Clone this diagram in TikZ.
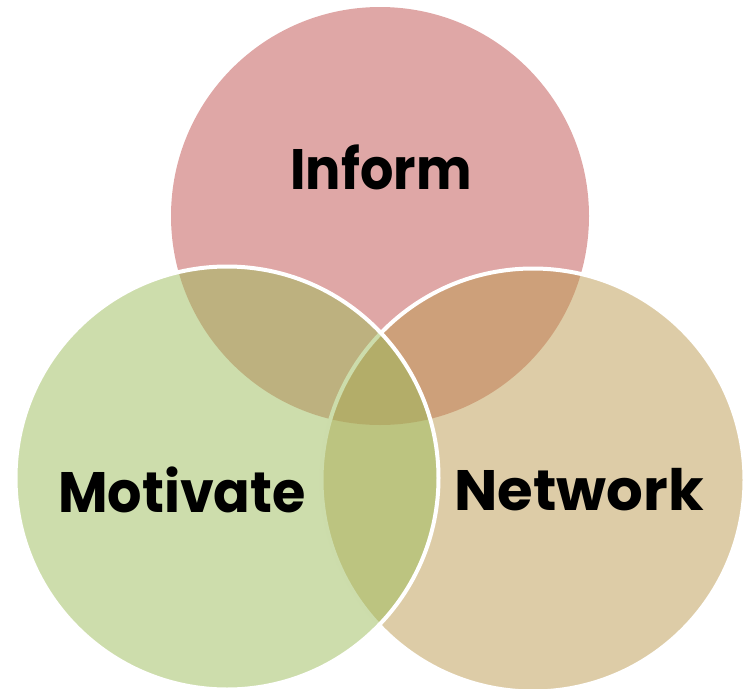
\documentclass[tikz,border=0pt]{standalone}
\usepackage{fontspec}
\setmainfont{Poppins}
\definecolor{informred}{RGB}{192,80,77}
\definecolor{motivgreen}{RGB}{155,187,89}
\definecolor{networktan}{RGB}{188,154,80}
\tikzset{
  venn/.style={circle,minimum size=418pt,inner sep=0pt,fill opacity=0.5},
  rim/.style={draw=white,line width=4pt,minimum size=423pt},
  lbl/.style={font=\fontsize{57}{60}\selectfont\bfseries,text=black,xscale=0.92}
}
\begin{document}
\begin{tikzpicture}[x=1pt,y=-1pt]
  \useasboundingbox (0,0) rectangle (744,688);
  \node[venn,fill=informred] (inform) at (380,216) {};
  \node[venn,rim,fill=networktan] (network) at (533,480) {};
  \node[venn,rim,fill=motivgreen] (motivate) at (227,478) {};
  \node[lbl] (informtxt) at (381,167) {Inform};
  \node[lbl,xscale=1.03] (motivtxt) at (182,490) {Motivate};
  \node[lbl,xscale=1.1] (networktxt) at (579,490) {Network};
\end{tikzpicture}
\end{document}
